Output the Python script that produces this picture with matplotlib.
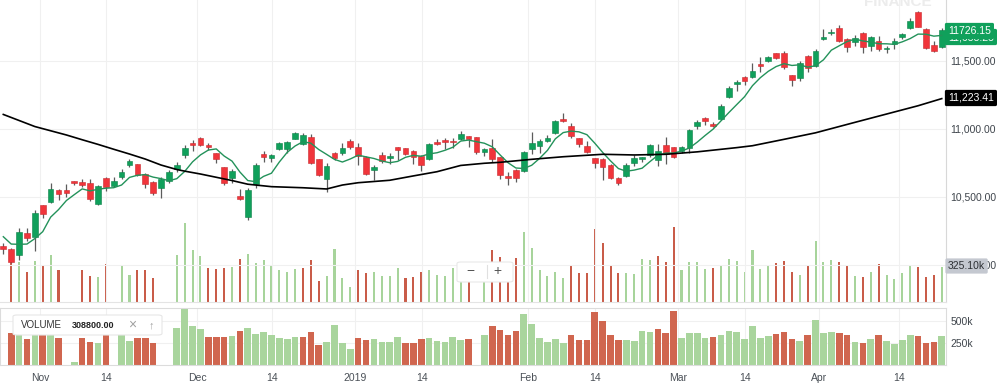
import numpy as np
import pandas as pd
import matplotlib
matplotlib.use("Agg")
import matplotlib.pyplot as plt
from matplotlib.patches import FancyBboxPatch

plt.rcParams['font.family'] = ['Liberation Sans', 'DejaVu Sans']

# daily candles, Oct 25 2018 .. Apr 2019 (one entry per trading slot)
open_ = [10140, 10120, 10073, 10233, 10208, 10441, 10461, 10555, 10551, 10615,
         10610, 10605, 10448, 10637, 10581, 10645, 10733, 10743, 10669, 10610,
         10568, 10620, 10704, 10809, 10895, 10934, 10882, 10821, 10718, 10642,
         10507, 10351, 10596, 10816, 10784, 10853, 10853, 10929, 10890, 10939,
         10777, 10635, 10821, 10821, 10914, 10868, 10794, 10698, 10809, 10787,
         10864, 10858, 10840, 10801, 10777, 10902, 10919, 10914, 10923, 10949,
         10938, 10833, 10858, 10792, 10654, 10698, 10691, 10851, 10877, 10914,
         10968, 11071, 11022, 10932, 10877, 10784, 10777, 10735, 10637, 10657,
         10748, 10777, 10809, 10772, 10880, 10865, 10838, 10858, 11022, 11079,
         11037, 11071, 11237, 11331, 11384, 11380, 11478, 11502, 11557, 11557,
         11397, 11373, 11537, 11463, 11662, 11704, 11740, 11660, 11642, 11708,
         11610, 11649, 11586, 11623, 11674, 11740, 11862, 11733, 11618, 11605]
high = [10160, 10125, 10274, 10274, 10404, 10443, 10605, 10557, 10596, 10617,
        10635, 10635, 10590, 10645, 10645, 10704, 10777, 10745, 10674, 10620,
        10649, 10698, 10755, 10882, 10919, 10943, 10895, 10826, 10720, 10704,
        10559, 10564, 10752, 10840, 10816, 10907, 10914, 10980, 10968, 10963,
        10779, 10748, 10833, 10895, 10924, 10895, 10804, 10735, 10833, 10821,
        10871, 10860, 10846, 10809, 10895, 10924, 10932, 10932, 10988, 10951,
        10941, 10862, 10924, 10794, 10686, 10704, 10840, 10980, 10924, 10956,
        11066, 11115, 11042, 10936, 10912, 10786, 10784, 10740, 10645, 10752,
        10809, 10796, 10890, 10890, 10939, 10867, 10875, 10998, 11066, 11090,
        11054, 11184, 11316, 11360, 11386, 11487, 11532, 11539, 11559, 11576,
        11399, 11500, 11544, 11586, 11733, 11733, 11765, 11667, 11691, 11715,
        11684, 11684, 11610, 11667, 11708, 11814, 11864, 11740, 11649, 11743]
low = [10081, 10012, 10037, 10179, 10105, 10343, 10459, 10478, 10498, 10586,
       10571, 10468, 10443, 10546, 10571, 10635, 10718, 10654, 10566, 10512,
       10490, 10601, 10686, 10784, 10838, 10875, 10846, 10748, 10588, 10605,
       10478, 10331, 10564, 10755, 10755, 10846, 10826, 10924, 10882, 10740,
       10654, 10539, 10772, 10809, 10853, 10735, 10662, 10625, 10752, 10746,
       10772, 10809, 10743, 10693, 10772, 10882, 10853, 10858, 10919, 10870,
       10816, 10801, 10760, 10630, 10586, 10612, 10686, 10816, 10821, 10902,
       10963, 11051, 10932, 10870, 10826, 10715, 10625, 10632, 10588, 10649,
       10730, 10760, 10796, 10730, 10743, 10784, 10821, 10821, 10998, 11029,
       11017, 11066, 11230, 11282, 11323, 11377, 11417, 11495, 11512, 11439,
       11316, 11355, 11421, 11458, 11654, 11691, 11642, 11564, 11610, 11557,
       11576, 11576, 11557, 11586, 11660, 11735, 11748, 11588, 11568, 11599]
close = [10120, 10024, 10245, 10198, 10384, 10375, 10557, 10522, 10532, 10601,
         10586, 10483, 10581, 10573, 10618, 10686, 10762, 10660, 10596, 10527,
         10630, 10686, 10735, 10862, 10880, 10884, 10865, 10777, 10601, 10693,
         10483, 10551, 10735, 10796, 10809, 10895, 10907, 10968, 10956, 10752,
         10662, 10728, 10784, 10860, 10864, 10801, 10667, 10724, 10768, 10801,
         10848, 10818, 10796, 10735, 10887, 10891, 10907, 10908, 10963, 10924,
         10831, 10851, 10777, 10662, 10640, 10636, 10833, 10895, 10914, 10936,
         11061, 11062, 10949, 10887, 10833, 10748, 10723, 10637, 10605, 10735,
         10789, 10792, 10880, 10838, 10814, 10792, 10865, 10993, 11054, 11059,
         11022, 11169, 11299, 11348, 11351, 11426, 11463, 11532, 11523, 11458,
         11360, 11487, 11446, 11576, 11674, 11715, 11649, 11601, 11667, 11605,
         11674, 11588, 11598, 11647, 11698, 11794, 11752, 11593, 11576, 11726.15]
# closes before the first visible candle, needed for the 5-day average
prior_close = [10294, 10255, 10188, 10183]

# volume in thousands (nan = no bar)
nan = np.nan
volume = [nan, 360, 361, 291, 369, 341, 410, 300, nan, 30,
          300, 260, 249, 349, nan, 341, 268, 300, 300, 245,
          nan, nan, 415, 645, 445, 407, 318, 311, 318, 326,
          380, 418, 353, 372, 338, 300, 291, 311, 318, 372,
          222, 260, 456, 242, 176, 300, 280, 291, 260, 260,
          318, 242, 249, 291, 300, 268, 260, 318, 284, 291,
          nan, 341, 445, 399, 341, 387, 580, 464, 303, 261,
          291, 245, 341, 280, 280, 603, 499, 334, 280, 280,
          272, 380, 372, 403, 361, 618, 300, 361, 361, 307,
          314, 334, 380, 369, 291, 445, 307, 330, 353, 369,
          291, 268, 334, 510, 361, 372, 357, 334, 261, 253,
          291, 345, 268, 234, 280, 341, 326, 253, 264, 325.1]

# 50-day moving average
ma50_idx = [0, 4, 6, 8, 10, 12, 14, 16, 18, 20, 22, 23, 25, 27, 29, 31, 34, 38, 41, 43,
            45, 49, 52, 55, 58, 61, 63, 67, 71, 76, 80, 84, 88, 93, 95, 99, 103, 108,
            112, 116, 119]
ma50 = [11107, 11018, 10987, 10956, 10921, 10887, 10851, 10816, 10779, 10735, 10702,
        10690, 10669, 10645, 10621, 10594, 10576, 10568, 10559, 10588, 10605, 10623,
        10655, 10686, 10732, 10748, 10755, 10777, 10796, 10814, 10809, 10814, 10832,
        10863, 10877, 10924, 10972, 11049, 11110, 11171, 11223.41]

tick_pos = [4.65, 13.02, 24.56, 34.07, 44.6, 53.06, 66.57, 75.03, 85.52, 94.05, 103.47, 113.62]
tick_labels = ["Nov", "14", "Dec", "14", "2019", "14", "Feb", "14", "Mar", "14", "Apr", "14"]
price_ticks = [10000, 10500, 11000, 11500]

o = np.array(open_, float)
h = np.array(high, float)
l = np.array(low, float)
c = np.array(close, float)
v = np.array(volume, float)
x = np.arange(len(c))

ma5 = pd.Series(prior_close + close).rolling(5).mean().to_numpy()[len(prior_close):]

GREEN, RED = "#10a05b", "#f0353b"
VGREEN, VRED = "#a7d49b", "#c95c49"
up = c >= o
prev = np.r_[np.nan, c[:-1]]
vup = c >= prev

W, H = 1000, 383
fig = plt.figure(figsize=(W / 100, H / 100), dpi=100)


def box(left, top, right, bottom):
    return [left / W, 1 - bottom / H, (right - left) / W, (bottom - top) / H]


xlim = (-0.42, 119.54)

# volume overlay behind the candles
axv = fig.add_axes(box(0, 0, 946, 302))
axv.bar(x, v, width=0.26, color=np.where(vup, VGREEN, VRED), zorder=1)
axv.set_ylim(69, 69 + 2201)
axv.set_xlim(*xlim)
axv.axis("off")

ax = fig.add_axes(box(0, 0, 946, 302))
ax.set_zorder(axv.get_zorder() + 1)
ax.patch.set_visible(False)
ax.set_xlim(*xlim)
ax.set_ylim(9727.9, 11948.5)
ax.set_xticks(tick_pos)
ax.set_yticks(price_ticks)
ax.set_yticklabels([f"{t:,.2f}" for t in price_ticks])
ax.yaxis.tick_right()
ax.tick_params(axis="y", length=0, pad=3, labelsize=7.5, labelcolor="#3f454c")
ax.tick_params(axis="x", length=0, labelbottom=False)
ax.grid(True, color="#f0f0f0", lw=0.8, zorder=0)
for s in ["top", "left"]:
    ax.spines[s].set_visible(False)
ax.spines["right"].set_color("#d8d8d8")
ax.spines["bottom"].set_color("#e4e4e4")

ax.vlines(x, l, h, color="#5c5c5c", lw=0.9, zorder=2)
ax.bar(x, np.abs(c - o), bottom=np.minimum(o, c), width=0.72,
       color=np.where(up, GREEN, RED), edgecolor=np.where(up, "#0b8048", "#c92a2f"),
       linewidth=0.4, zorder=3)
ax.plot(x, ma5, color="#23925a", lw=1.0, zorder=4)
ax.plot(ma50_idx, ma50, color="black", lw=1.2, zorder=4)

# lower volume panel
axl = fig.add_axes(box(0, 308.3, 946, 364.5))
axl.bar(x, v, width=0.84, color=np.where(vup, "#a9d59d", "#d0664f"), zorder=2)
axl.set_xlim(*xlim)
axl.set_ylim(0, 647)
axl.set_xticks(tick_pos)
axl.set_xticklabels(tick_labels)
axl.set_yticks([250, 500])
axl.set_yticklabels(["250k", "500k"])
axl.yaxis.tick_right()
axl.tick_params(axis="y", length=0, pad=3, labelsize=7.5, labelcolor="#3f454c")
axl.tick_params(axis="x", length=0, pad=6, labelsize=7.5, labelcolor="#4a5057")
axl.grid(True, color="#f0f0f0", lw=0.8, zorder=0)
for s in axl.spines.values():
    s.set_color("#dcdcdc")

# value tags on the right edge
fig.text(948 / W, 1 - 37 / H, f"{ma5[-1]:,.2f}", ha="left", va="center", fontsize=7.5,
         color="white", bbox=dict(boxstyle="round,pad=0.3,rounding_size=0.15", fc=GREEN, ec="none"))
fig.text(948 / W, 1 - 31 / H, f"{c[-1]:.2f}", ha="left", va="center", fontsize=7.5,
         color="white", bbox=dict(boxstyle="round,pad=0.3,rounding_size=0.15", fc=GREEN, ec="none"))
fig.text(948 / W, 1 - 98 / H, f"{ma50[-1]:,.2f}", ha="left", va="center", fontsize=7.5,
         color="white", bbox=dict(boxstyle="round,pad=0.3,rounding_size=0.15", fc="black", ec="none"))
fig.text(948 / W, 1 - 266 / H, f"{v[-1]:.2f}k", ha="left", va="center", fontsize=7.5,
         color="#2c2f33", bbox=dict(boxstyle="round,pad=0.25,rounding_size=0.15", fc="#c4c8d0", ec="none"))

# watermark cut by the top edge
fig.text(898 / W, 1 - 2 / H, "FINANCE", ha="center", va="center", fontsize=11,
         fontweight="bold", color="#ececec")

# zoom buttons
fig.patches.append(FancyBboxPatch((457 / W, 1 - 282 / H), 56 / W, 20 / H,
                                  boxstyle="round,pad=0,rounding_size=0.004",
                                  transform=fig.transFigure, fc="white", ec="#e8e8e8", lw=0.8))
fig.text(470 / W, 1 - 271 / H, "\u2212", ha="center", va="center", fontsize=10, color="#555555")
fig.text(497 / W, 1 - 271 / H, "+", ha="center", va="center", fontsize=10, color="#555555")
fig.lines.append(plt.Line2D([487 / W, 487 / W], [1 - 265 / H, 1 - 278 / H],
                            transform=fig.transFigure, color="#e0e0e0", lw=0.8))

# legend of the volume panel
fig.patches.append(FancyBboxPatch((13 / W, 1 - 335 / H), 149 / W, 20 / H,
                                  boxstyle="round,pad=0,rounding_size=0.004",
                                  transform=fig.transFigure, fc="white", ec="#e6e6e6", lw=0.8))
fig.text(21 / W, 1 - 325 / H, "VOLUME", ha="left", va="center", fontsize=7, color="#333333")
fig.text(72 / W, 1 - 325.5 / H, "308800.00", ha="left", va="center", fontsize=6.5,
         fontweight="bold", color="#222222")
fig.text(132 / W, 1 - 325 / H, "\u00d7", ha="center", va="center", fontsize=10, color="#a0a0a0")
fig.text(151 / W, 1 - 325 / H, "\u2191", ha="center", va="center", fontsize=8, color="#a0a0a0")

fig.savefig("out.png", dpi=100)
